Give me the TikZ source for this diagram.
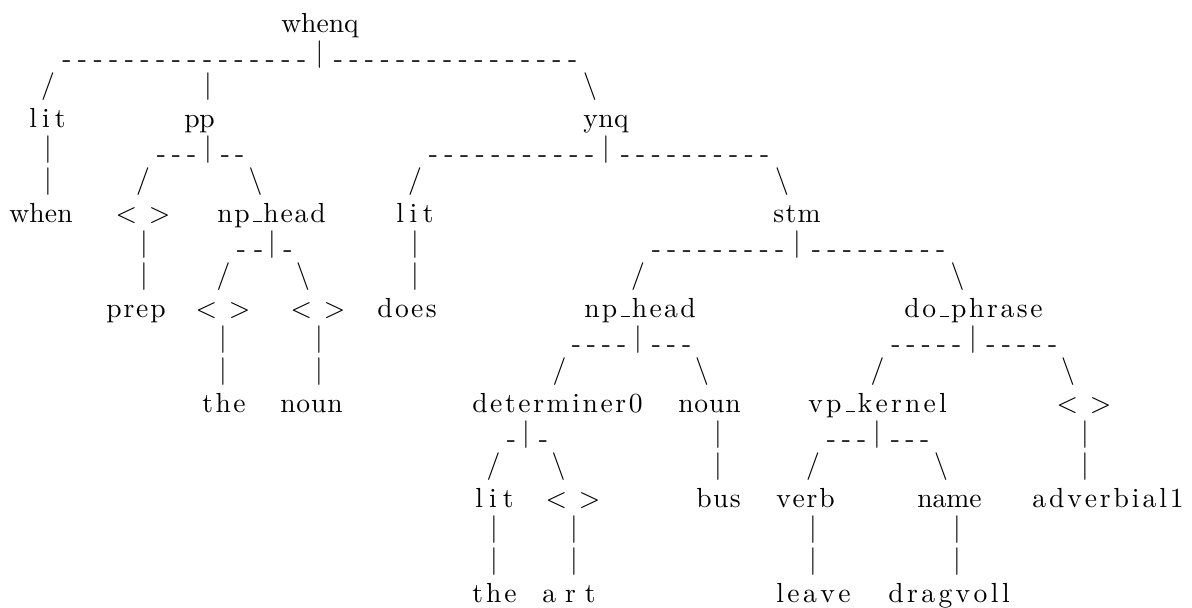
\documentclass[tikz,border=0pt]{standalone}
\usepackage{fontspec}
\setmainfont{lmroman10-regular.otf}
\newdimen\pxu \pxu=0.5pt
\newcount\dcnt
\makeatletter
\def\sw#1#2{\hbox to #1\pxu{\sw@first#2\relax}}
\def\sw@first#1{#1\sw@loop}
\def\sw@loop#1{\ifx#1\relax\else\hss#1\expandafter\sw@loop\fi}
\makeatother
\def\U{\kern.06em\vrule width .3em height .8pt depth 0pt\relax}
\def\dsh#1#2{\hbox to #2\pxu{-\dcnt=1 \loop\ifnum\dcnt<#1 \hss-\advance\dcnt by 1 \repeat}}
\def\angs{\hbox to 54.6\pxu{<\hss>}}
\tikzset{
  lbl/.style={inner sep=0pt, outer sep=0pt, anchor=base},
  cn/.style={inner sep=0pt, outer sep=0pt, anchor=base},
}
\begin{document}
\begin{tikzpicture}[x=0.5pt,y=-0.5pt,every node/.style={font=\fontsize{13.8pt}{16pt}\selectfont}]
\useasboundingbox (0,0) rectangle (1192,608);
% row 0
\node[lbl] (whenq) at (320,32.4) {\sw{77.4}{whenq}};
% row 1
\node[cn] (d1a) at (184.25,67.2) {\dsh{16}{244}};
\node[cn] (b1) at (319.4,61.3) {|};
\node[cn] (d1b) at (455.5,67.2) {\dsh{16}{243.5}};
% row 2
\node[cn] (s2a) at (48,93.3) {/};
\node[cn] (b2) at (208,93.3) {|};
\node[cn] (s2b) at (590,93.3) {\textbackslash};
% row 3
\node[lbl] (lit1) at (47.5,127.4) {\sw{36.4}{lit}};
\node[lbl] (pp) at (199.5,127.4) {\sw{30.4}{pp}};
\node[lbl] (ynq) at (606,127.4) {\sw{45.4}{ynq}};
% row 4
\node[cn] (b4a) at (48,156.3) {|};
\node[cn] (d4a) at (176.5,162.2) {\dsh{3}{39.5}};
\node[cn] (b4b) at (208,156.3) {|};
\node[cn] (d4b) at (232.5,162.2) {\dsh{2}{23.5}};
\node[cn] (d4c) at (511.5,162.2) {\dsh{11}{165.5}};
\node[cn] (b4c) at (606,156.3) {|};
\node[cn] (d4d) at (695,162.2) {\dsh{10}{148.5}};
% row 5
\node[cn] (b5) at (48,188.3) {|};
\node[cn] (s5a) at (143,188.3) {/};
\node[cn] (s5b) at (255.5,188.3) {\textbackslash};
\node[cn] (s5c) at (415,188.3) {/};
\node[cn] (s5d) at (782,188.3) {\textbackslash};
% row 6
\node[lbl] (when) at (41,222.4) {\sw{63.4}{when}};
\node[lbl] (a6) at (143,222.4) {\angs};
\node[lbl] (nph1) at (271.5,222.4) {\sw{108.4}{np\U head}};
\node[lbl] (lit2) at (415,222.4) {\sw{37.4}{lit}};
\node[lbl] (stm) at (797,222.4) {\sw{47.4}{stm}};
% row 7
\node[cn] (b7a) at (144,251.3) {|};
\node[cn] (d7a) at (250,257.2) {\dsh{2}{26.5}};
\node[cn] (b7b) at (272,251.3) {|};
\node[cn] (d7b) at (288,257.2) {\dsh{1}{9.2}};
\node[cn] (b7c) at (415,251.3) {|};
\node[cn] (d7c) at (718,257.2) {\dsh{9}{132.5}};
\node[cn] (b7d) at (797,251.3) {|};
\node[cn] (d7d) at (878.5,257.2) {\dsh{9}{133.5}};
% row 8
\node[cn] (b8a) at (144,283.3) {|};
\node[cn] (s8a) at (223.5,283.3) {/};
\node[cn] (s8b) at (303,283.3) {\textbackslash};
\node[cn] (b8b) at (415,283.3) {|};
\node[cn] (s8c) at (638,283.3) {/};
\node[cn] (s8d) at (957.5,283.3) {\textbackslash};
% row 9
\node[lbl] (prep) at (136,317.4) {\sw{59.4}{prep}};
\node[lbl] (a9a) at (223,317.4) {\angs};
\node[lbl] (a9b) at (318,317.4) {\angs};
\node[lbl] (does) at (407,317.4) {\sw{59.4}{does}};
\node[lbl] (nph2) at (640,317.4) {\sw{111.4}{np\U head}};
\node[lbl] (dophr) at (973.5,317.4) {\sw{138.4}{do\U phrase}};
% row 10
\node[cn] (b10a) at (223,346.3) {|};
\node[cn] (b10b) at (319,346.3) {|};
\node[cn] (d10a) at (599,352.2) {\dsh{4}{54.5}};
\node[cn] (b10c) at (638,346.3) {|};
\node[cn] (d10b) at (671.5,352.2) {\dsh{3}{39.5}};
\node[cn] (d10c) at (926.25,352.2) {\dsh{5}{70}};
\node[cn] (b10d) at (973,346.3) {|};
\node[cn] (d10d) at (1021.8,352.2) {\dsh{5}{70.9}};
% row 11
\node[cn] (b11a) at (223,378.3) {|};
\node[cn] (b11b) at (319,378.3) {|};
\node[cn] (s11a) at (559.5,378.3) {/};
\node[cn] (s11b) at (702,378.3) {\textbackslash};
\node[cn] (s11c) at (877.5,378.3) {/};
\node[cn] (s11d) at (1068,378.3) {\textbackslash};
% row 12
\node[lbl] (the1) at (224,412.4) {\sw{43.4}{the}};
\node[lbl] (noun1) at (311.5,412.4) {\sw{62.4}{noun}};
\node[lbl] (det) at (557.5,412.4) {\sw{170.4}{determiner0}};
\node[lbl] (noun2) at (709.5,412.4) {\sw{62.4}{noun}};
\node[lbl] (vpk) at (877.5,412.4) {\sw{138.4}{vp\U kernel}};
\node[lbl] (a12) at (1084,412.4) {\angs};
% row 13
\node[cn] (d13a) at (511.5,447.2) {\dsh{1}{9.2}};
\node[cn] (b13a) at (526,441.3) {|};
\node[cn] (d13b) at (543.5,447.2) {\dsh{1}{9.2}};
\node[cn] (b13b) at (718,441.3) {|};
\node[cn] (d13c) at (846.5,447.2) {\dsh{3}{39.5}};
\node[cn] (b13c) at (877,441.3) {|};
\node[cn] (d13d) at (910,447.2) {\dsh{3}{38.5}};
\node[cn] (b13d) at (1085,441.3) {|};
% row 14
\node[cn] (s14a) at (493.5,473.3) {/};
\node[cn] (s14b) at (558.5,473.3) {\textbackslash};
\node[cn] (b14a) at (718,473.3) {|};
\node[cn] (s14c) at (813,473.3) {/};
\node[cn] (s14d) at (941,473.3) {\textbackslash};
\node[cn] (b14b) at (1085,473.3) {|};
% row 15
\node[lbl] (lit3) at (494.5,507.4) {\sw{38.4}{lit}};
\node[lbl] (a15) at (573,507.4) {\angs};
\node[lbl] (bus) at (718.5,507.4) {\sw{44.4}{bus}};
\node[lbl] (verb) at (805.5,507.4) {\sw{58.4}{verb}};
\node[lbl] (name) at (949.5,507.4) {\sw{64.4}{name}};
\node[lbl] (adv) at (1108,507.4) {\sw{151.4}{adverbial1}};
% row 16 and 17
\node[cn] (b16a) at (494,536.3) {|};
\node[cn] (b16b) at (574,536.3) {|};
\node[cn] (b16c) at (813,536.3) {|};
\node[cn] (b16d) at (957,536.3) {|};
\node[cn] (b17a) at (494,568.3) {|};
\node[cn] (b17b) at (574,568.3) {|};
\node[cn] (b17c) at (813,568.3) {|};
\node[cn] (b17d) at (957,568.3) {|};
% row 18
\node[lbl] (the2) at (494.5,602.4) {\sw{44.4}{the}};
\node[lbl] (art) at (569,602.4) {\sw{53.4}{art}};
\node[lbl] (leave) at (813.5,602.4) {\sw{74.4}{leave}};
\node[lbl] (dragvoll) at (949,602.4) {\sw{121.4}{dragvoll}};
\end{tikzpicture}
\end{document}
